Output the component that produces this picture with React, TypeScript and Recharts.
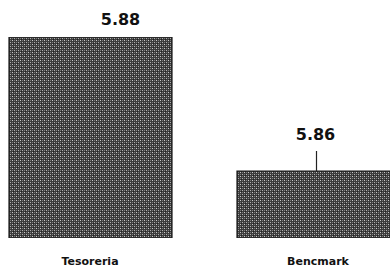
import { BarChart, Bar, XAxis, YAxis, LabelList } from 'recharts';

const categories = ['Tesoreria', 'Bencmark'];
const values = [5.88, 5.86];

const data = categories.map((name, i) => ({ name, value: values[i] }));

// label placement tweaks per bar (the scan has them off-centre)
const LABEL_DX = [30, -3];
const LABEL_RISE = [18, 37];

function renderValueLabel(props: any) {
  const { x, y, width, value, index } = props;
  const cx = x + width / 2 + LABEL_DX[index];
  const ty = y - LABEL_RISE[index];
  return (
    <g>
      <text
        x={cx}
        y={ty}
        textAnchor="middle"
        dominantBaseline="central"
        fontFamily="DejaVu Sans, sans-serif"
        fontWeight="bold"
        fontSize={16}
        fill="#111"
      >
        {value.toFixed(2)}
      </text>
      {index === 1 && <line x1={cx + 1} x2={cx + 1} y1={ty + 17} y2={y} stroke="#222" strokeWidth={1.2} />}
    </g>
  );
}

function renderTick({ x, y, payload }: any) {
  return (
    <text
      x={x}
      y={y + 19}
      textAnchor="middle"
      fontFamily="DejaVu Sans, sans-serif"
      fontWeight="bold"
      fontSize={11}
      fill="#111"
    >
      {payload.value}
    </text>
  );
}

export default function App() {
  return (
    <div style={{ position: 'absolute', left: 0, top: 0, width: 390, height: 268, overflow: 'hidden', background: '#fff' }}>
      <div style={{ position: 'absolute', left: -24, top: 0 }}>
        <BarChart width={456} height={268} data={data} margin={{ top: 37, right: 0, bottom: 0, left: 0 }} barCategoryGap={0}>
          <defs>
            <pattern id="dither" width="4" height="4" patternUnits="userSpaceOnUse">
              <rect width="4" height="4" fill="#3c3c3c" />
              <rect x="0" y="0" width="1" height="1" fill="#c8c8c8" />
              <rect x="2" y="2" width="1" height="1" fill="#b0b0b0" />
              <rect x="2" y="0" width="1" height="1" fill="#7a7a7a" />
              <rect x="0" y="2" width="1" height="1" fill="#7a7a7a" />
              <rect x="1" y="3" width="1" height="1" fill="#222" />
            </pattern>
          </defs>
          <XAxis dataKey="name" height={30} axisLine={false} tickLine={false} tick={renderTick} interval={0} />
          <YAxis hide domain={[5.85, 5.88]} allowDataOverflow />
          <Bar dataKey="value" barSize={163} fill="url(#dither)" stroke="#1a1a1a" strokeWidth={1.2} isAnimationActive={false}>
            <LabelList dataKey="value" content={renderValueLabel} />
          </Bar>
        </BarChart>
      </div>
    </div>
  );
}
